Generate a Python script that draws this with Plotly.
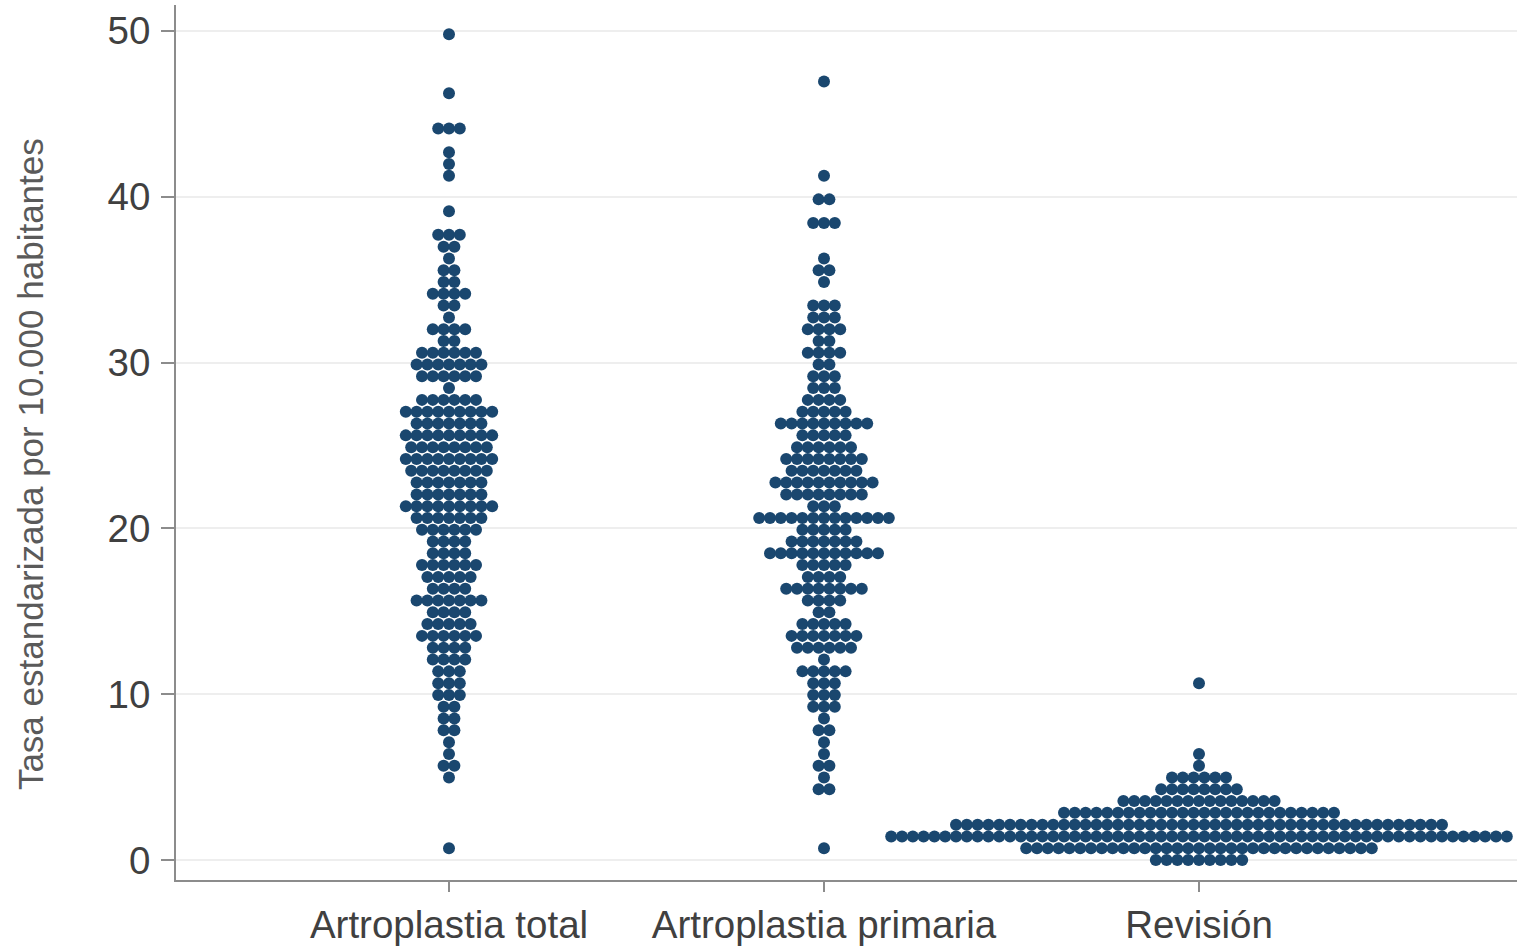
import plotly.graph_objects as go

# ---- data: row values (binned rate) and number of dots per row ----
categories = ["Artroplastia total", "Artroplastia primaria", "Revisión"]

total_values = [49.80, 46.24, 44.11, 42.68, 41.97, 41.26, 39.13, 37.70, 36.99, 36.28,
                35.57, 34.86, 34.15, 33.44, 32.72, 32.01, 31.30, 30.59, 29.88, 29.17,
                28.46, 27.75, 27.03, 26.32, 25.61, 24.90, 24.19, 23.48, 22.77, 22.05,
                21.34, 20.63, 19.92, 19.21, 18.50, 17.79, 17.07, 16.36, 15.65, 14.94,
                14.23, 13.52, 12.81, 12.09, 11.38, 10.67, 9.96, 9.25, 8.54, 7.83,
                7.11, 6.40, 5.69, 4.98, 0.71]
total_counts = [1, 1, 3, 1, 1, 1, 1, 3, 2, 1,
                2, 2, 4, 2, 1, 4, 2, 6, 7, 6,
                1, 6, 9, 7, 9, 8, 9, 8, 7, 7,
                9, 7, 6, 4, 4, 6, 5, 4, 7, 4,
                5, 6, 4, 4, 3, 3, 3, 2, 2, 2,
                1, 1, 2, 1, 1]

primaria_values = [46.95, 41.26, 39.84, 38.42, 36.28, 35.57, 34.86, 33.44, 32.72, 32.01,
                   31.30, 30.59, 29.88, 29.17, 28.46, 27.75, 27.03, 26.32, 25.61, 24.90,
                   24.19, 23.48, 22.77, 22.05, 21.34, 20.63, 19.92, 19.21, 18.50, 17.79,
                   17.07, 16.36, 15.65, 14.94, 14.23, 13.52, 12.81, 12.09, 11.38, 10.67,
                   9.96, 9.25, 8.54, 7.83, 7.11, 6.40, 5.69, 4.98, 4.27, 0.71]
primaria_counts = [1, 1, 2, 3, 1, 2, 1, 3, 3, 4,
                   2, 4, 2, 3, 3, 4, 5, 9, 5, 6,
                   8, 7, 10, 8, 3, 13, 5, 7, 11, 5,
                   4, 8, 4, 2, 5, 7, 6, 1, 5, 3,
                   3, 3, 1, 2, 1, 1, 2, 1, 2, 1]

revision_values = [10.67, 6.40, 5.69, 4.98, 4.27, 3.56, 2.85, 2.13, 1.42, 0.71, 0.00]
revision_counts = [1, 1, 1, 6, 8, 15, 26, 46, 58, 33, 9]

y_ticks = [0, 10, 20, 30, 40, 50]
y_title = "Tasa estandarizada por 10.000 habitantes"

# ---- style ----
DOT_COLOR = "#1a476f"
DOT_STEP = 0.0288  # horizontal spacing between dots in a row (x units)

groups = [
    (1, total_values, total_counts),
    (2, primaria_values, primaria_counts),
    (3, revision_values, revision_counts),
]

fig = go.Figure()
for pos, vals, counts in groups:
    xs, ys = [], []
    for v, n in zip(vals, counts):
        for i in range(n):
            xs.append(pos + (i - (n - 1) / 2) * DOT_STEP)
            ys.append(v)
    fig.add_trace(go.Scatter(
        x=xs, y=ys, mode="markers",
        marker=dict(size=12, color=DOT_COLOR, line=dict(width=0)),
        showlegend=False, hoverinfo="y",
    ))

axis_col = "#8c8c8c"
font_family = "Liberation Sans, Arial, Helvetica, sans-serif"

fig.update_layout(
    width=1517, height=946,
    margin=dict(l=176, r=0, t=5, b=59),
    plot_bgcolor="white", paper_bgcolor="white",
    font=dict(family=font_family, color="#3c3c3c"),
    xaxis=dict(
        range=[0.272, 3.848],
        tickmode="array", tickvals=[1, 2, 3], ticktext=categories,
        showgrid=False, zeroline=False,
        showline=True, linecolor=axis_col, linewidth=2,
        ticks="outside", ticklen=10, tickwidth=1.5, tickcolor=axis_col,
        tickfont=dict(size=38.5, color="#404040"),
    ),
    yaxis=dict(
        range=[-1.2, 51.56],
        tickmode="array", tickvals=y_ticks,
        showgrid=True, gridcolor="#eeeeee", gridwidth=1.5,
        zeroline=False,
        showline=True, linecolor=axis_col, linewidth=2,
        ticks="outside", ticklen=13, tickwidth=1.5, tickcolor=axis_col,
        ticklabelstandoff=3,
        tickfont=dict(size=38.5, color="#404040"),
    ),
    annotations=[dict(
        text=y_title, textangle=-90,
        xref="paper", yref="paper", x=-0.108, y=0.4755,
        xanchor="center", yanchor="middle", showarrow=False,
        font=dict(size=35, color="#5a5a5a"),
    )],
)

fig.write_html(
    "out.html",
    config={"displayModeBar": False},
    post_script="document.body.style.margin='0';document.body.style.overflow='hidden';",
)
